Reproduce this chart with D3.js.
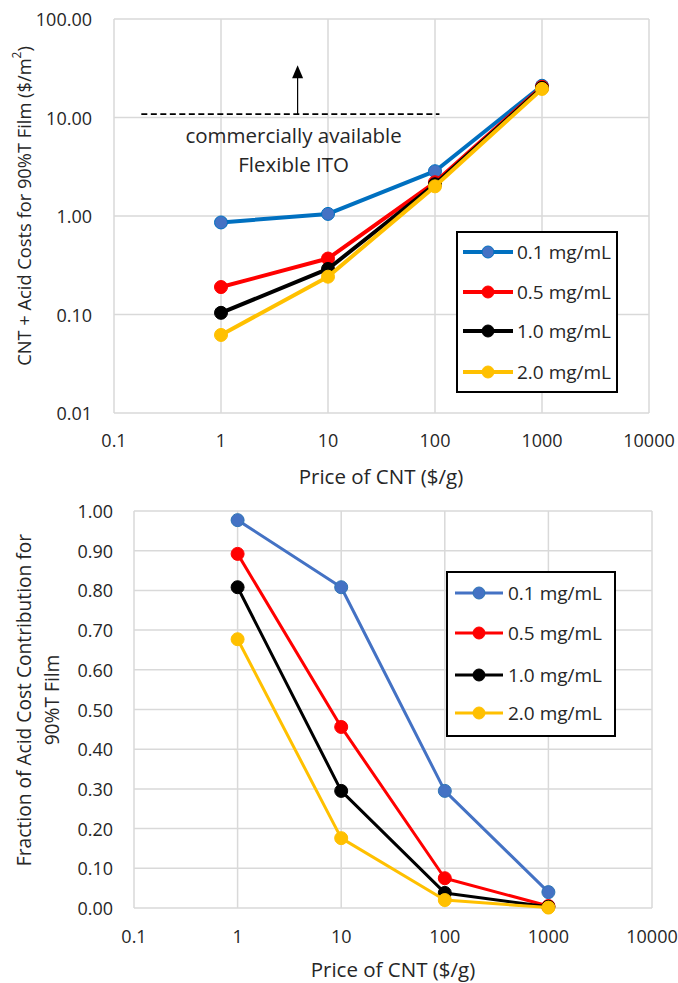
<!DOCTYPE html>
<html><head><meta charset="utf-8">
<script src="https://cdn.jsdelivr.net/npm/d3@7"></script>
<style>
body{margin:0;background:#fff}
text{font-family:'Open Sans',sans-serif;fill:#262626}
</style>
</head><body>
<svg id="c" width="678" height="983"></svg>
<script>
// ---------- data ----------
const prices = [1, 10, 100, 1000];
const xTicks = [0.1, 1, 10, 100, 1000, 10000];
const xTickLabels = ["0.1", "1", "10", "100", "1000", "10000"];
const topYTicks = [0.01, 0.1, 1, 10, 100];
const bottomYTicks = [0, 0.1, 0.2, 0.3, 0.4, 0.5, 0.6, 0.7, 0.8, 0.9, 1.0];
const seriesNames = ["0.1 mg/mL", "0.5 mg/mL", "1.0 mg/mL", "2.0 mg/mL"];
const seriesColors = ["#0070C0", "#FF0000", "#000000", "#FFC000"];
const markerColorsTop = ["#4472C4", "#FF0000", "#000000", "#FFC000"];
const lineColorsBottom = ["#4472C4", "#FF0000", "#000000", "#FFC000"];
const markerStrokeBottom = ["#2E75B6", "#FF0000", "#000000", "#FFC000"];

// CNT + acid cost ($/m^2)
const cost01 = [0.86, 1.05, 2.85, 21];
const cost05 = [0.19, 0.37, 2.2, 20.5];
const cost10 = [0.104, 0.29, 2.1, 20];
const cost20 = [0.062, 0.242, 2.0, 19.5];

// fraction of acid cost contribution
const frac01 = [0.977, 0.808, 0.295, 0.040];
const frac05 = [0.892, 0.456, 0.075, 0.005];
const frac10 = [0.808, 0.295, 0.038, 0.003];
const frac20 = [0.677, 0.176, 0.020, 0.001];

// annotation (commercial flexible ITO)
const itoCost = 10.8;
const itoRange = [0.18, 110];
const itoArrowX = 5.2;
const itoArrowTop = 34;

const topSeries = [cost01, cost05, cost10, cost20];
const bottomSeries = [frac01, frac05, frac10, frac20];

const svg = d3.select("#c");
svg.append("rect").attr("width", 678).attr("height", 983).attr("fill", "#fff");
const gridColor = "#D9D9D9";

function drawFrame(x, y, yTicks, yFmt, labelRight, xLabelY) {
  const g = svg.append("g");
  const [x0, x1] = x.range();
  const [yb, yt] = y.range();
  g.selectAll(".vg").data(xTicks).join("line")
    .attr("x1", d => x(d)).attr("x2", d => x(d))
    .attr("y1", yt).attr("y2", yb)
    .attr("stroke", gridColor).attr("stroke-width", 1.5);
  g.selectAll(".hg").data(yTicks).join("line")
    .attr("x1", x0).attr("x2", x1)
    .attr("y1", d => y(d)).attr("y2", d => y(d))
    .attr("stroke", gridColor).attr("stroke-width", 1.5);
  g.selectAll(".yl").data(yTicks).join("text")
    .attr("x", labelRight).attr("y", d => y(d))
    .attr("text-anchor", "end").attr("dominant-baseline", "central")
    .attr("font-size", 18)
    .text(d => yFmt(d));
  g.selectAll(".xl").data(xTicks).join("text")
    .attr("x", d => x(d)).attr("y", xLabelY)
    .attr("text-anchor", "middle").attr("dominant-baseline", "central")
    .attr("font-size", 18)
    .text((d, i) => xTickLabels[i]);
}

function drawSeries(x, y, data, lineCols, fillCols, strokeCols, lw, r) {
  const line = d3.line().x(d => x(d.p)).y(d => y(d.v));
  data.forEach((vals, i) => {
    const pts = prices.map((p, j) => ({p, v: vals[j]}));
    svg.append("path").datum(pts)
      .attr("d", line).attr("fill", "none")
      .attr("stroke", lineCols[i]).attr("stroke-width", lw)
      .attr("stroke-linejoin", "round");
    svg.selectAll(null).data(pts).join("circle")
      .attr("cx", d => x(d.p)).attr("cy", d => y(d.v)).attr("r", r)
      .attr("fill", fillCols[i]).attr("stroke", strokeCols[i]).attr("stroke-width", 1);
  });
}

function drawLegend(x0, y0, w, h, rowYs, lineCols, fillCols, strokeCols, lw, lx0, lx1, tx) {
  svg.append("rect").attr("x", x0).attr("y", y0).attr("width", w).attr("height", h)
    .attr("fill", "#fff").attr("stroke", "#000").attr("stroke-width", 2);
  seriesNames.forEach((n, i) => {
    const yy = rowYs[i];
    svg.append("line").attr("x1", lx0).attr("x2", lx1).attr("y1", yy).attr("y2", yy)
      .attr("stroke", lineCols[i]).attr("stroke-width", lw);
    svg.append("circle").attr("cx", (lx0 + lx1) / 2).attr("cy", yy).attr("r", 6)
      .attr("fill", fillCols[i]).attr("stroke", strokeCols[i]).attr("stroke-width", 1);
    svg.append("text").attr("x", tx).attr("y", yy).attr("dominant-baseline", "central")
      .attr("font-size", 19).text(n);
  });
}

// ---------- top chart ----------
const xTop = d3.scaleLog().domain([0.1, 10000]).range([114, 649]);
const yTop = d3.scaleLog().domain([0.01, 100]).range([413, 19]);
drawFrame(xTop, yTop, topYTicks, d3.format(".2f"), 92, 440);

// ITO annotation
svg.append("line")
  .attr("x1", xTop(itoRange[0])).attr("x2", xTop(itoRange[1]))
  .attr("y1", yTop(itoCost)).attr("y2", yTop(itoCost))
  .attr("stroke", "#000").attr("stroke-width", 1.8).attr("stroke-dasharray", "6,3.5");
const ax = xTop(itoArrowX), ayTop = yTop(itoArrowTop), ayBot = yTop(itoCost);
svg.append("line").attr("x1", ax).attr("x2", ax).attr("y1", ayBot).attr("y2", ayTop + 12)
  .attr("stroke", "#000").attr("stroke-width", 1.2);
svg.append("path")
  .attr("d", `M${ax},${ayTop} L${ax - 5.5},${ayTop + 13} L${ax + 5.5},${ayTop + 13} Z`)
  .attr("fill", "#000");
svg.append("text").attr("x", ax - 4).attr("y", 135).attr("text-anchor", "middle")
  .attr("dominant-baseline", "central").attr("font-size", 20.5).text("commercially available");
svg.append("text").attr("x", ax - 4).attr("y", 164).attr("text-anchor", "middle")
  .attr("dominant-baseline", "central").attr("font-size", 20.5).text("Flexible ITO");

drawSeries(xTop, yTop, topSeries, seriesColors, markerColorsTop, seriesColors, 4, 6.5);
drawLegend(457, 232, 160, 160, [252, 292, 331, 372], seriesColors, markerColorsTop, seriesColors, 4, 463, 513, 517);

// axis titles
svg.append("text").attr("x", 381).attr("y", 476).attr("text-anchor", "middle")
  .attr("dominant-baseline", "central").attr("font-size", 20.5).text("Price of CNT ($/g)");
const t1 = svg.append("text").attr("transform", "translate(23,206) rotate(-90)")
  .attr("text-anchor", "middle").attr("dominant-baseline", "central").attr("font-size", 18.3);
t1.append("tspan").text("CNT + Acid Costs for 90%T Film ($/m");
t1.append("tspan").attr("dy", -7).attr("font-size", 12).text("2");
t1.append("tspan").attr("dy", 7).text(")");

// ---------- bottom chart ----------
const xBot = d3.scaleLog().domain([0.1, 10000]).range([134, 652]);
const yBot = d3.scaleLinear().domain([0, 1]).range([908, 511]);
drawFrame(xBot, yBot, bottomYTicks, d3.format(".2f"), 113, 936);
drawSeries(xBot, yBot, bottomSeries, lineColorsBottom, markerColorsTop, markerStrokeBottom, 3, 6.5);
drawLegend(447, 572, 168, 164, [593, 633, 675, 713], lineColorsBottom, markerColorsTop, markerStrokeBottom, 3, 455, 503, 508);

svg.append("text").attr("x", 393).attr("y", 969).attr("text-anchor", "middle")
  .attr("dominant-baseline", "central").attr("font-size", 20.5).text("Price of CNT ($/g)");
svg.append("text").attr("transform", "translate(23,700) rotate(-90)")
  .attr("text-anchor", "middle").attr("dominant-baseline", "central").attr("font-size", 19.2)
  .text("Fraction of Acid Cost Contribution for");
svg.append("text").attr("transform", "translate(51,700) rotate(-90)")
  .attr("text-anchor", "middle").attr("dominant-baseline", "central").attr("font-size", 19.2)
  .text("90%T Film");
</script>
</body></html>
